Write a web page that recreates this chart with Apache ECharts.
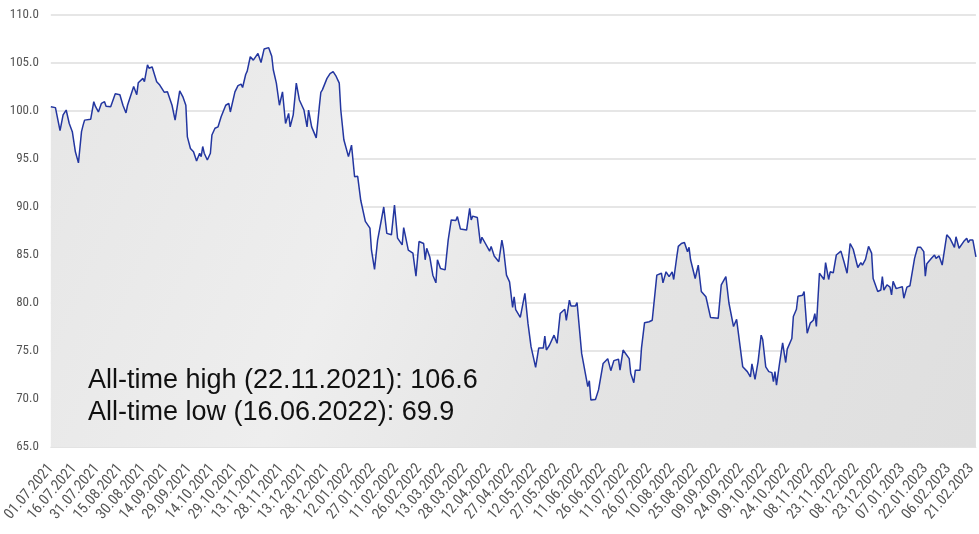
<!DOCTYPE html>
<html>
<head>
<meta charset="utf-8">
<script src="https://cdn.jsdelivr.net/npm/echarts@6/dist/echarts.min.js"></script>
<style>
  html, body { margin: 0; padding: 0; background: #ffffff; }
  #chart { width: 979px; height: 534px; }
</style>
</head>
<body>
<div id="chart"></div>
<script>
// ---- Data ----
const firstDay = [2021, 7, 1];
const lastDay = [2023, 2, 24];

const pointDates = [
  '01.07.2021','04.07.2021','07.07.2021','09.07.2021','11.07.2021','13.07.2021','15.07.2021','17.07.2021','19.07.2021','21.07.2021',
  '22.07.2021','23.07.2021','24.07.2021','27.07.2021','28.07.2021','29.07.2021','30.07.2021','01.08.2021','03.08.2021','04.08.2021',
  '05.08.2021','06.08.2021','09.08.2021','12.08.2021','15.08.2021','17.08.2021','19.08.2021','20.08.2021','24.08.2021','26.08.2021',
  '27.08.2021','30.08.2021','31.08.2021','02.09.2021','03.09.2021','05.09.2021','08.09.2021','10.09.2021','13.09.2021','15.09.2021',
  '18.09.2021','20.09.2021','21.09.2021','23.09.2021','25.09.2021','27.09.2021','28.09.2021','30.09.2021','02.10.2021','04.10.2021',
  '06.10.2021','07.10.2021','08.10.2021','09.10.2021','11.10.2021','13.10.2021','14.10.2021','16.10.2021','18.10.2021','20.10.2021',
  '23.10.2021','25.10.2021','26.10.2021','29.10.2021','31.10.2021','02.11.2021','03.11.2021','05.11.2021','06.11.2021','08.11.2021',
  '10.11.2021','13.11.2021','15.11.2021','17.11.2021','18.11.2021','20.11.2021','22.11.2021','23.11.2021','25.11.2021','27.11.2021',
  '29.11.2021','01.12.2021','03.12.2021','04.12.2021','06.12.2021','08.12.2021','10.12.2021','13.12.2021','15.12.2021','16.12.2021',
  '18.12.2021','21.12.2021','23.12.2021','24.12.2021','25.12.2021','28.12.2021','30.12.2021','01.01.2022','03.01.2022','05.01.2022',
  '06.01.2022','08.01.2022','11.01.2022','13.01.2022','15.01.2022','17.01.2022','19.01.2022','22.01.2022','25.01.2022','26.01.2022',
  '28.01.2022','30.01.2022','03.02.2022','05.02.2022','08.02.2022','10.02.2022','12.02.2022','15.02.2022','16.02.2022','19.02.2022',
  '22.02.2022','24.02.2022','26.02.2022','01.03.2022','02.03.2022','03.03.2022','05.03.2022','07.03.2022','09.03.2022','10.03.2022',
  '12.03.2022','15.03.2022','17.03.2022','19.03.2022','22.03.2022','23.03.2022','25.03.2022','29.03.2022','31.03.2022','01.04.2022',
  '02.04.2022','05.04.2022','07.04.2022','08.04.2022','13.04.2022','14.04.2022','16.04.2022','19.04.2022','21.04.2022','22.04.2022',
  '24.04.2022','26.04.2022','28.04.2022','29.04.2022','30.04.2022','03.05.2022','04.05.2022','06.05.2022','08.05.2022','10.05.2022',
  '13.05.2022','15.05.2022','18.05.2022','19.05.2022','20.05.2022','22.05.2022','25.05.2022','27.05.2022','29.05.2022','01.06.2022',
  '02.06.2022','04.06.2022','05.06.2022','08.06.2022','09.06.2022','12.06.2022','16.06.2022','17.06.2022','18.06.2022','21.06.2022',
  '23.06.2022','24.06.2022','26.06.2022','29.06.2022','01.07.2022','03.07.2022','06.07.2022','07.07.2022','09.07.2022','13.07.2022',
  '14.07.2022','16.07.2022','17.07.2022','20.07.2022','21.07.2022','23.07.2022','26.07.2022','28.07.2022','31.07.2022','03.08.2022',
  '04.08.2022','06.08.2022','08.08.2022','10.08.2022','11.08.2022','13.08.2022','14.08.2022','16.08.2022','18.08.2022','20.08.2022',
  '21.08.2022','22.08.2022','25.08.2022','27.08.2022','29.08.2022','01.09.2022','04.09.2022','09.09.2022','11.09.2022','14.09.2022',
  '15.09.2022','16.09.2022','17.09.2022','19.09.2022','21.09.2022','25.09.2022','28.09.2022','30.09.2022','01.10.2022','03.10.2022',
  '05.10.2022','07.10.2022','08.10.2022','10.10.2022','12.10.2022','14.10.2022','15.10.2022','16.10.2022','17.10.2022','19.10.2022',
  '21.10.2022','23.10.2022','24.10.2022','27.10.2022','28.10.2022','30.10.2022','31.10.2022','03.11.2022','04.11.2022','06.11.2022',
  '08.11.2022','10.11.2022','11.11.2022','12.11.2022','14.11.2022','15.11.2022','17.11.2022','18.11.2022','20.11.2022','21.11.2022',
  '23.11.2022','25.11.2022','28.11.2022','30.11.2022','02.12.2022','04.12.2022','06.12.2022','09.12.2022','11.12.2022','12.12.2022',
  '14.12.2022','16.12.2022','18.12.2022','19.12.2022','22.12.2022','24.12.2022','25.12.2022','26.12.2022','28.12.2022','30.12.2022',
  '31.12.2022','01.01.2023','03.01.2023','05.01.2023','07.01.2023','08.01.2023','10.01.2023','12.01.2023','15.01.2023','17.01.2023',
  '19.01.2023','21.01.2023','22.01.2023','23.01.2023','26.01.2023','28.01.2023','29.01.2023','31.01.2023','02.02.2023','05.02.2023',
  '07.02.2023','10.02.2023','11.02.2023','13.02.2023','16.02.2023','18.02.2023','19.02.2023','20.02.2023','22.02.2023','24.02.2023'
];

const pointValues = [
  100.45,100.35,97.95,99.6,100.1,98.7,97.85,95.75,94.6,97.85,
  98.5,99.05,99.2,99.15,98.95,100.97,100.5,99.9,100.8,100.6,
  100.97,100.5,100.45,101.8,101.7,100.6,99.8,100.6,102.55,101.7,
  102.95,103.4,103.05,104.8,104.45,104.6,103.05,102.7,101.95,102.0,
  100.6,99.05,99.2,102.1,101.5,100.6,97.3,96.1,95.75,94.8,
  95.6,95.25,96.3,95.6,94.9,95.6,97.5,98.2,98.35,99.4,
  100.6,100.8,99.9,102.0,102.65,102.8,102.45,103.8,104.15,105.65,
  105.3,106.0,105.05,106.45,106.35,106.6,105.7,104.3,102.9,100.6,
  102.0,98.7,99.75,98.35,99.6,102.9,101.15,100.1,98.35,100.1,
  98.35,97.2,100.45,101.95,102.2,103.4,103.9,104.1,103.6,102.9,
  100.1,97.0,95.25,96.45,93.15,93.2,90.7,88.5,87.8,85.5,
  83.5,86.55,90.0,87.25,87.1,90.2,86.75,86.05,87.85,85.5,
  85.2,82.8,86.4,86.2,84.5,85.7,84.8,82.9,82.1,84.5,
  83.6,83.45,86.55,88.65,88.6,89.0,87.7,87.6,89.85,88.65,
  89.05,88.9,86.2,86.85,85.4,85.9,84.9,84.3,86.55,85.7,
  82.9,82.2,79.55,80.65,79.3,78.5,78.6,81.0,77.9,75.45,
  73.3,75.3,75.3,76.55,75.1,75.6,76.65,75.8,78.9,79.35,
  78.2,80.3,79.7,79.7,80.05,74.75,71.3,71.9,69.9,69.95,
  70.95,71.0,73.7,74.2,72.95,74.0,74.15,73.0,75.1,74.2,
  72.65,71.7,73.0,73.0,75.3,77.95,78.05,78.2,82.9,83.1,
  82.1,83.25,82.75,83.25,82.45,84.8,85.9,86.2,86.3,85.35,
  85.8,84.5,82.55,83.95,81.2,80.65,78.5,78.4,81.9,82.75,
  82.6,80.0,79.8,77.55,78.3,73.35,72.85,72.3,73.65,72.05,
  73.9,76.65,76.2,73.35,72.85,72.75,71.8,72.85,71.45,73.7,
  75.85,73.8,75.2,76.3,78.6,79.35,80.7,80.8,81.2,76.85,
  77.9,78.2,78.9,77.55,83.1,82.9,82.45,84.2,82.45,83.25,
  83.15,85.0,85.4,84.3,83.1,86.2,85.6,83.7,84.2,83.95,
  84.55,85.9,85.2,82.55,81.2,81.35,82.75,81.35,81.9,81.65,
  80.85,82.25,81.5,81.6,81.7,80.5,81.65,81.8,84.65,85.8,
  85.8,85.35,82.8,84.1,84.65,85.0,84.65,84.9,83.95,87.1,
  86.75,85.8,86.9,85.7,86.4,86.75,86.3,86.55,86.55,84.8
];

const yMin = 65, yMax = 110, yStep = 5;
const noteLines = [
  'All-time high (22.11.2021): 106.6',
  'All-time low (16.06.2022): 69.9'
];

// ---- Build the daily category axis ----
function fmt(d) {
  const dd = String(d.getDate()).padStart(2, '0');
  const mm = String(d.getMonth() + 1).padStart(2, '0');
  return dd + '.' + mm + '.' + d.getFullYear();
}
const categories = [];
{
  const d = new Date(firstDay[0], firstDay[1] - 1, firstDay[2], 12);
  const end = new Date(lastDay[0], lastDay[1] - 1, lastDay[2], 12);
  while (d <= end) { categories.push(fmt(d)); d.setDate(d.getDate() + 1); }
}
const valueByDate = {};
pointDates.forEach((k, i) => { valueByDate[k] = pointValues[i]; });
const seriesData = categories.map(c => (c in valueByDate ? valueByDate[c] : null));

const labelFont = '"Liberation Sans Narrow", "Roboto Condensed", "DejaVu Sans Condensed", sans-serif';

const chart = echarts.init(document.getElementById('chart'), null, { renderer: 'canvas' });
chart.setOption({
  animation: false,
  backgroundColor: '#ffffff',
  grid: { left: 50, right: 0, top: 15, bottom: 87, containLabel: false },
  xAxis: {
    type: 'category',
    data: categories,
    boundaryGap: false,
    axisLine: { show: true, lineStyle: { color: '#e3e3e3', width: 1 } },
    axisTick: { show: false },
    splitLine: { show: false },
    axisLabel: {
      interval: 14,
      rotate: 50,
      color: '#555555',
      fontFamily: labelFont,
      fontSize: 15,
      margin: 19
    }
  },
  yAxis: {
    type: 'value',
    min: yMin,
    max: yMax,
    interval: yStep,
    axisLine: { show: false },
    axisTick: { show: false },
    splitLine: { lineStyle: { color: '#dedede', width: 1.5 } },
    axisLabel: {
      color: '#555555',
      fontFamily: labelFont,
      fontSize: 13,
      margin: 12,
      formatter: v => v.toFixed(1)
    }
  },
  series: [{
    type: 'line',
    data: seriesData,
    connectNulls: true,
    showSymbol: false,
    symbol: 'none',
    lineStyle: { color: '#2336a0', width: 1.5 },
    areaStyle: {
      origin: 'start',
      color: new echarts.graphic.LinearGradient(0, 0, 1, 1, [
        { offset: 0, color: '#e6e6e6' },
        { offset: 0.35, color: '#eeeeee' },
        { offset: 0.6, color: '#e4e4e4' },
        { offset: 1, color: '#dfdfdf' }
      ]),
      opacity: 1
    },
    z: 3
  }],
  graphic: [
    {
      type: 'text', left: 88, top: 367, z: 10,
      style: { text: noteLines[0], fill: '#111111', font: '27px "Liberation Sans", Arial, sans-serif' }
    },
    {
      type: 'text', left: 88, top: 399, z: 10,
      style: { text: noteLines[1], fill: '#111111', font: '27px "Liberation Sans", Arial, sans-serif' }
    }
  ]
});
</script>
</body>
</html>
